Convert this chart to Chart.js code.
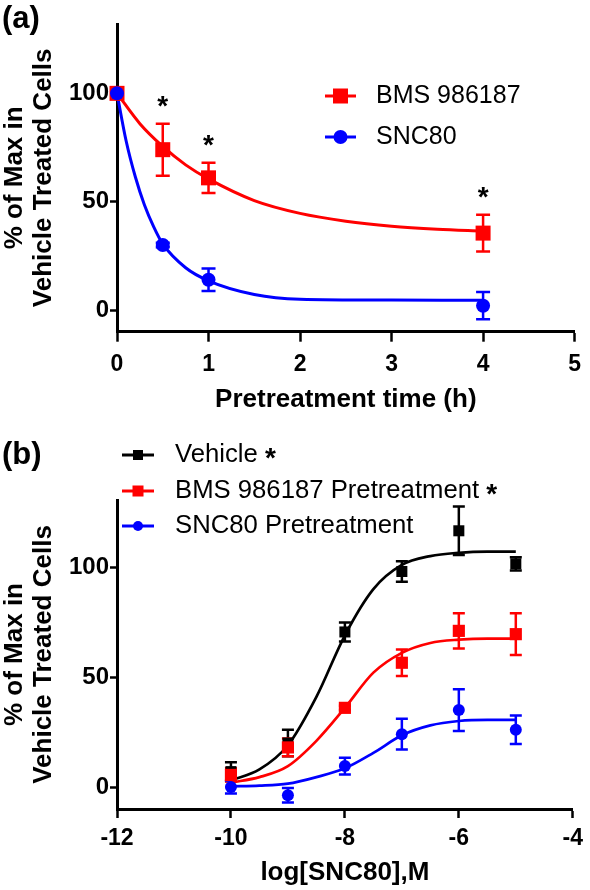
<!DOCTYPE html>
<html>
<head>
<meta charset="utf-8">
<script src="https://cdn.jsdelivr.net/npm/chart.js@4.4.1/dist/chart.umd.min.js"></script>
<style>
  body { margin: 0; background: #fff; }
  canvas { position: absolute; left: 0; }
</style>
</head>
<body>
<canvas id="chartA" width="590" height="430" style="top:0"></canvas>
<canvas id="chartB" width="590" height="460" style="top:430px"></canvas>
<script>
// ---- panel (a): pretreatment time course ----
const timeH = [0, 0.5, 1, 4];
const bmsMean = [100, 74, 61, 35.5];
const bmsSem = [0, 12, 7, 8.5];
const sncMean = [100, 30, 14, 2];
const sncSem = [0, 1, 5.2, 6.3];
// fitted decay curves
const bmsFitX = [0, 0.25, 0.5, 0.75, 1, 1.5, 2, 2.5, 3, 3.5, 4];
const bmsFitY = [100, 86, 75.5, 67, 60.5, 50.5, 44.6, 41, 38.7, 37.3, 36.4];
const sncFitX = [0, 0.1, 0.2, 0.3, 0.4, 0.5, 0.75, 1, 1.5, 2, 3, 4];
const sncFitY = [100, 78, 61.5, 48.5, 38.5, 30.5, 19.5, 13.5, 7.2, 5, 4.6, 4.5];
const starTimes = [0.5, 1, 4];
const timeTicks = [0, 1, 2, 3, 4, 5];
const pctTicks = [0, 50, 100];

// ---- panel (b): SNC80 concentration response ----
const logConc = [-10, -9, -8, -7, -6, -5];
const vehMean = [7, 20, 70.5, 98, 116.5, 101.5];
const vehSem = [4.3, 6, 4.3, 4.7, 11, 3];
const bmsPreMean = [5.5, 18, 36, 56.5, 71, 69.5];
const bmsPreSem = [3, 4, 1, 6, 8, 9.5];
const sncPreMean = [0, -3.8, 9.5, 24, 35, 26];
const sncPreSem = [3, 3.3, 3.8, 7, 9.5, 6.5];
// fitted sigmoid curves
const concFitX = [-10, -9.5, -9, -8.5, -8, -7.5, -7, -6.5, -6, -5.5, -5];
const vehFitY = [3, 8, 19, 41, 69, 90, 101, 105, 106.5, 107, 107];
const bmsPreFitY = [2, 4.5, 9.5, 21, 36, 52, 61, 65.5, 67, 67.5, 67.5];
const sncPreFitY = [0.3, 0.6, 1.5, 4.5, 8.5, 15.5, 23.5, 28, 30, 30.5, 30.5];
const concTicks = [-12, -10, -8, -6, -4];

const FONT = "'Liberation Sans', Arial, Helvetica, sans-serif";
const RED = '#ff0000';
const BLUE = '#0000ff';
const BLACK = '#000000';

Chart.defaults.font.family = FONT;
Chart.defaults.color = '#000';

const pts = (xs, ys) => xs.map((x, i) => ({ x: x, y: ys[i] }));

function drawMarker(ctx, style, x, y, size, color) {
    ctx.fillStyle = color;
    if (style === 'rect') {
        ctx.fillRect(x - size / 2, y - size / 2, size, size);
    } else {
        ctx.beginPath();
        ctx.arc(x, y, size / 2, 0, Math.PI * 2);
        ctx.fill();
    }
}

// error bars, asterisks, legend and panel letter
function makeExtras(cfg) {
    return {
        id: 'extras',
        beforeDatasetsDraw(chart) {
            const { ctx, scales: { x, y } } = chart;
            ctx.save();
            ctx.lineWidth = 2.5;
            const c = cfg.cap / 2;
            cfg.errors.forEach(s => {
                ctx.strokeStyle = s.color;
                s.xs.forEach((xv, i) => {
                    if (!s.sem[i]) return;
                    const px = x.getPixelForValue(xv);
                    const hi = y.getPixelForValue(s.mean[i] + s.sem[i]);
                    const lo = y.getPixelForValue(s.mean[i] - s.sem[i]);
                    ctx.beginPath();
                    ctx.moveTo(px, hi); ctx.lineTo(px, lo);
                    ctx.moveTo(px - c, hi); ctx.lineTo(px + c, hi);
                    ctx.moveTo(px - c, lo); ctx.lineTo(px + c, lo);
                    ctx.stroke();
                });
            });
            ctx.restore();
        },
        afterDraw(chart) {
            const { ctx, scales: { x, y } } = chart;
            ctx.save();
            ctx.fillStyle = '#000';

            if (cfg.stars) {
                const s = cfg.stars;
                ctx.font = 'bold 28px ' + FONT;
                ctx.textAlign = 'center';
                ctx.textBaseline = 'alphabetic';
                s.at.forEach(xv => {
                    const i = s.xs.indexOf(xv);
                    const top = y.getPixelForValue(s.mean[i] + s.sem[i]);
                    ctx.fillText('*', x.getPixelForValue(xv), top - 9);
                });
            }

            const lg = cfg.legend;
            lg.items.forEach((it, i) => {
                const ly = lg.ys[i];
                ctx.strokeStyle = it.color;
                ctx.lineWidth = 3;
                ctx.beginPath();
                ctx.moveTo(lg.x0, ly);
                ctx.lineTo(lg.x1, ly);
                ctx.stroke();
                drawMarker(ctx, it.style, (lg.x0 + lg.x1) / 2, ly, it.size, it.color);
                ctx.fillStyle = '#000';
                ctx.font = lg.fontSize + 'px ' + FONT;
                ctx.textAlign = 'left';
                ctx.textBaseline = 'middle';
                ctx.fillText(it.label, lg.tx, ly);
                if (it.star) {
                    const w = ctx.measureText(it.label + ' ').width;
                    ctx.font = 'bold 28px ' + FONT;
                    ctx.textBaseline = 'alphabetic';
                    ctx.fillText('*', lg.tx + w, ly + 12);
                }
            });

            ctx.font = 'bold 31px ' + FONT;
            ctx.textAlign = 'left';
            ctx.textBaseline = 'alphabetic';
            ctx.fillStyle = '#000';
            ctx.fillText(cfg.letter, 2, cfg.letterY);
            ctx.restore();
        }
    };
}

function axisCommon(tickLen, tickPad, tickSize) {
    return {
        grid: { drawOnChartArea: false, drawTicks: true, tickLength: tickLen, tickWidth: 2.5, tickColor: '#000' },
        border: { color: '#000', width: 3 },
        ticks: { font: { size: tickSize, weight: 'bold' }, color: '#000', padding: tickPad, maxRotation: 0 }
    };
}

const yTitle = ['% of Max in', 'Vehicle Treated Cells'];
const titleFont = { size: 26, weight: 'bold', lineHeight: 1.12 };

// Panel (a)
new Chart(document.getElementById('chartA'), {
    type: 'line',
    data: {
        datasets: [
            { label: 'SNC80', data: pts(timeH, sncMean), showLine: false, pointStyle: 'circle', pointRadius: 7,
              pointBackgroundColor: BLUE, pointBorderWidth: 0, order: 0, clip: false },
            { label: 'BMS 986187', data: pts(timeH, bmsMean), showLine: false, pointStyle: 'rect', pointRadius: 10.6,
              pointBackgroundColor: RED, pointBorderWidth: 0, order: 1, clip: false },
            { label: 'SNC80 fit', data: pts(sncFitX, sncFitY), borderColor: BLUE, borderWidth: 3, pointRadius: 0,
              cubicInterpolationMode: 'monotone', order: 2, clip: false },
            { label: 'BMS 986187 fit', data: pts(bmsFitX, bmsFitY), borderColor: RED, borderWidth: 3, pointRadius: 0,
              cubicInterpolationMode: 'monotone', order: 3, clip: false }
        ]
    },
    options: {
        responsive: false,
        animation: false,
        events: [],
        layout: { padding: { top: 24, right: 12, left: 0, bottom: 0 } },
        plugins: { legend: { display: false }, tooltip: { enabled: false } },
        scales: {
            x: {
                type: 'linear', min: 0, max: 5,
                ...axisCommon(10, 9, 23),
                afterBuildTicks: s => { s.ticks = timeTicks.map(v => ({ value: v })); },
                afterFit: s => { s.height = 430 - 331.7; },
                title: { display: true, text: 'Pretreatment time (h)', color: '#000',
                         font: titleFont, padding: { top: 0, bottom: 16 } }
            },
            y: {
                type: 'linear', min: -10, max: 132,
                ...axisCommon(7, 1, 24),
                afterBuildTicks: s => { s.ticks = pctTicks.map(v => ({ value: v })); },
                afterFit: s => { s.width = 117; },
                title: { display: true, text: yTitle, color: '#000',
                         font: titleFont, padding: { top: 0, bottom: 0 } }
            }
        }
    },
    plugins: [makeExtras({
        cap: 14,
        errors: [
            { xs: timeH, mean: bmsMean, sem: bmsSem, color: RED },
            { xs: timeH, mean: sncMean, sem: sncSem, color: BLUE }
        ],
        stars: { at: starTimes, xs: timeH, mean: bmsMean, sem: bmsSem },
        legend: {
            x0: 325, x1: 356, tx: 376, ys: [96, 137], fontSize: 25,
            items: [
                { label: 'BMS 986187', color: RED, style: 'rect', size: 15 },
                { label: 'SNC80', color: BLUE, style: 'circle', size: 14 }
            ]
        },
        letter: '(a)', letterY: 28
    })]
});

// Panel (b)
new Chart(document.getElementById('chartB'), {
    type: 'line',
    data: {
        datasets: [
            { label: 'SNC80 Pretreatment', data: pts(logConc, sncPreMean), showLine: false, pointStyle: 'circle', pointRadius: 6,
              pointBackgroundColor: BLUE, pointBorderWidth: 0, order: 0, clip: false },
            { label: 'BMS 986187 Pretreatment', data: pts(logConc, bmsPreMean), showLine: false, pointStyle: 'rect', pointRadius: 8.6,
              pointBackgroundColor: RED, pointBorderWidth: 0, order: 1, clip: false },
            { label: 'Vehicle', data: pts(logConc, vehMean), showLine: false, pointStyle: 'rect', pointRadius: 7.8,
              pointBackgroundColor: BLACK, pointBorderWidth: 0, order: 2, clip: false },
            { label: 'SNC80 fit', data: pts(concFitX, sncPreFitY), borderColor: BLUE, borderWidth: 2.7, pointRadius: 0,
              cubicInterpolationMode: 'monotone', order: 3, clip: false },
            { label: 'BMS fit', data: pts(concFitX, bmsPreFitY), borderColor: RED, borderWidth: 2.7, pointRadius: 0,
              cubicInterpolationMode: 'monotone', order: 4, clip: false },
            { label: 'Vehicle fit', data: pts(concFitX, vehFitY), borderColor: BLACK, borderWidth: 2.7, pointRadius: 0,
              cubicInterpolationMode: 'monotone', order: 5, clip: false }
        ]
    },
    options: {
        responsive: false,
        animation: false,
        events: [],
        layout: { padding: { top: 70, right: 12.7, left: 0, bottom: 0 } },
        plugins: { legend: { display: false }, tooltip: { enabled: false } },
        scales: {
            x: {
                type: 'linear', min: -12, max: -4,
                ...axisCommon(9, 7, 23),
                afterBuildTicks: s => { s.ticks = concTicks.map(v => ({ value: v })); },
                afterFit: s => { s.height = 460 - 379; },
                title: { display: true, text: 'log[SNC80],M', color: '#000',
                         font: titleFont, padding: { top: 0, bottom: 2.4 } }
            },
            y: {
                type: 'linear', min: -10, max: 130.5,
                ...axisCommon(7, 1, 24),
                afterBuildTicks: s => { s.ticks = pctTicks.map(v => ({ value: v })); },
                afterFit: s => { s.width = 117; },
                title: { display: true, text: yTitle, color: '#000',
                         font: titleFont, padding: { top: 0, bottom: 0 } }
            }
        }
    },
    plugins: [makeExtras({
        cap: 12,
        errors: [
            { xs: logConc, mean: vehMean, sem: vehSem, color: BLACK },
            { xs: logConc, mean: bmsPreMean, sem: bmsPreSem, color: RED },
            { xs: logConc, mean: sncPreMean, sem: sncPreSem, color: BLUE }
        ],
        legend: {
            x0: 122, x1: 154, tx: 175, ys: [25, 61, 96], fontSize: 25.7,
            items: [
                { label: 'Vehicle', color: BLACK, style: 'rect', size: 10, star: true },
                { label: 'BMS 986187 Pretreatment', color: RED, style: 'rect', size: 11, star: true },
                { label: 'SNC80 Pretreatment', color: BLUE, style: 'circle', size: 10 }
            ]
        },
        letter: '(b)', letterY: 34
    })]
});
</script>
</body>
</html>
